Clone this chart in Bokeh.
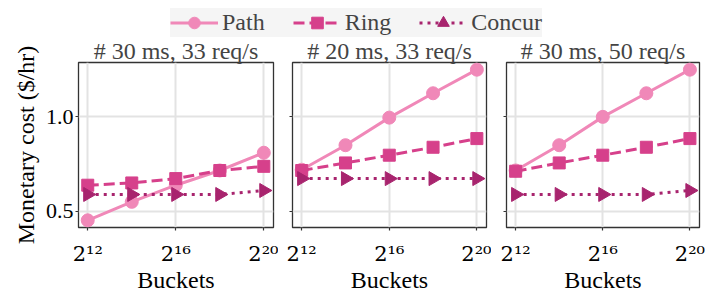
import math
from bokeh.plotting import figure
from bokeh.models import Range1d, FixedTicker, Legend, LegendItem, PrintfTickFormatter
from bokeh.layouts import column, row
from bokeh.embed import file_html
from bokeh.resources import INLINE

# ---- data ----
bucket_exponents = [12, 14, 16, 18, 20]
buckets = [2**e for e in bucket_exponents]
tick_exponents = [12, 16, 20]
tick_values = [2**e for e in tick_exponents]
tick_labels = ["2\u00b9\u00b2", "2\u00b9\u2076", "2\u00b2\u2070"]
y_ticks = [0.5, 1.0]
titles = ["# 30 ms, 33 req/s", "# 20 ms, 33 req/s", "# 30 ms, 50 req/s"]
series_names = ["Path", "Ring", "Concur"]

path_p1 = [0.452, 0.550, 0.638, 0.716, 0.810]
ring_p1 = [0.638, 0.650, 0.673, 0.716, 0.738]
concur_p1 = [0.589, 0.589, 0.589, 0.589, 0.610]

path_p2 = [0.720, 0.850, 0.996, 1.125, 1.250]
ring_p2 = [0.716, 0.756, 0.797, 0.839, 0.885]
concur_p2 = [0.673, 0.673, 0.673, 0.673, 0.673]

path_p3 = [0.716, 0.850, 1.000, 1.125, 1.250]
ring_p3 = [0.712, 0.756, 0.797, 0.839, 0.885]
concur_p3 = [0.589, 0.589, 0.589, 0.589, 0.610]

panels = [(path_p1, ring_p1, concur_p1), (path_p2, ring_p2, concur_p2), (path_p3, ring_p3, concur_p3)]

# ---- style ----
FONT = "Liberation Serif"
colors = ["#f088b8", "#d6408b", "#a8246e"]
dashes = ["solid", "11 5", "3 5"]
markers = ["circle", "square", "triangle"]
msizes = [13, 12, 14]
angles = [0, 0, -math.pi / 2]

y_range = Range1d(0.414, 1.288)
frame_ws = [195, 194, 193]
borders_lr = [(78, 5), (14, 5), (15, 8)]


def add_series(p, ys, i, visible=True):
    rl = p.line(buckets, ys, line_color=colors[i], line_width=3, line_dash=dashes[i], visible=visible)
    rs = p.scatter(buckets, ys, marker=markers[i], size=msizes[i], angle=angles[i],
                   fill_color=colors[i], line_color=colors[i], visible=visible)
    return [rl, rs]


figs = []
for k, (title, data) in enumerate(zip(titles, panels)):
    p = figure(output_backend="svg", toolbar_location=None, x_axis_type="log",
               x_range=Range1d(2**11.58, 2**20.44), y_range=y_range,
               frame_width=frame_ws[k], frame_height=165,
               min_border_left=borders_lr[k][0], min_border_right=borders_lr[k][1],
               min_border_top=0, min_border_bottom=60, title=title)
    p.title.text_font = FONT
    p.title.text_font_size = "24px"
    p.title.text_font_style = "normal"
    p.title.align = "center"
    p.title.standoff = -3
    p.outline_line_color = "#333333"
    p.outline_line_width = 1.3
    p.background_fill_color = "white"
    p.border_fill_color = "white"

    p.xaxis.ticker = FixedTicker(ticks=tick_values)
    p.xaxis.major_label_overrides = {v: t for v, t in zip(tick_values, tick_labels)}
    p.xaxis.axis_label = "Buckets"
    p.yaxis.ticker = FixedTicker(ticks=y_ticks)
    p.yaxis.formatter = PrintfTickFormatter(format="%.1f")
    p.xgrid.ticker = FixedTicker(ticks=tick_values)
    p.ygrid.ticker = FixedTicker(ticks=y_ticks)
    for ax in [p.xaxis[0], p.yaxis[0]]:
        ax.axis_line_color = None
        ax.major_tick_in = 0
        ax.major_tick_out = 3
        ax.major_tick_line_color = "#333333"
        ax.major_tick_line_width = 1.2
        ax.minor_tick_line_color = None
        ax.major_label_text_font = FONT
        ax.major_label_text_font_size = "22px"
        ax.major_label_text_color = "black"
        ax.axis_label_text_font = FONT
        ax.axis_label_text_font_size = "24px"
        ax.axis_label_text_font_style = "normal"
        ax.axis_label_text_color = "black"
    p.xaxis.major_label_text_font = "DejaVu Serif"
    p.xaxis.major_label_text_font_size = "21px"
    p.xaxis.major_label_standoff = 11
    p.xaxis.axis_label_standoff = -2
    p.yaxis.major_label_standoff = 2
    if k == 0:
        p.yaxis.axis_label = "Monetary cost ($/hr)"
        p.yaxis.axis_label_standoff = 4
    else:
        p.yaxis.major_label_overrides = {v: "" for v in y_ticks}
        p.yaxis.major_label_standoff = 0
    for g in [p.xgrid[0], p.ygrid[0]]:
        g.grid_line_color = "#e3e3e3"
        g.grid_line_width = 2
    for i, ys in enumerate(data):
        add_series(p, ys, i)
    figs.append(p)

# legend-only figure
lf = figure(output_backend="svg", toolbar_location=None, width=707, height=37,
            x_range=Range1d(0, 1), y_range=Range1d(0, 1),
            min_border_left=0, min_border_right=0, min_border_top=0, min_border_bottom=0)
lf.axis.visible = False
lf.grid.visible = False
lf.outline_line_color = None
items = []
for i, ys in enumerate(panels[0]):
    rs = add_series(lf, ys, i, visible=False)
    items.append(LegendItem(label=series_names[i], renderers=rs))
leg = Legend(items=items, orientation="horizontal", location=(170, 0),
             glyph_width=48, glyph_height=29, label_standoff=4, spacing=28,
             padding=4, margin=0, background_fill_color="#f5f5f5", background_fill_alpha=1,
             border_line_color=None, label_text_font=FONT, label_text_font_size="24px",
             label_text_baseline="middle", click_policy="none")
lf.add_layout(leg, "center")

layout = column(lf, row(*figs, spacing=0), spacing=0)
open("out.html", "w").write(file_html(layout, INLINE))
